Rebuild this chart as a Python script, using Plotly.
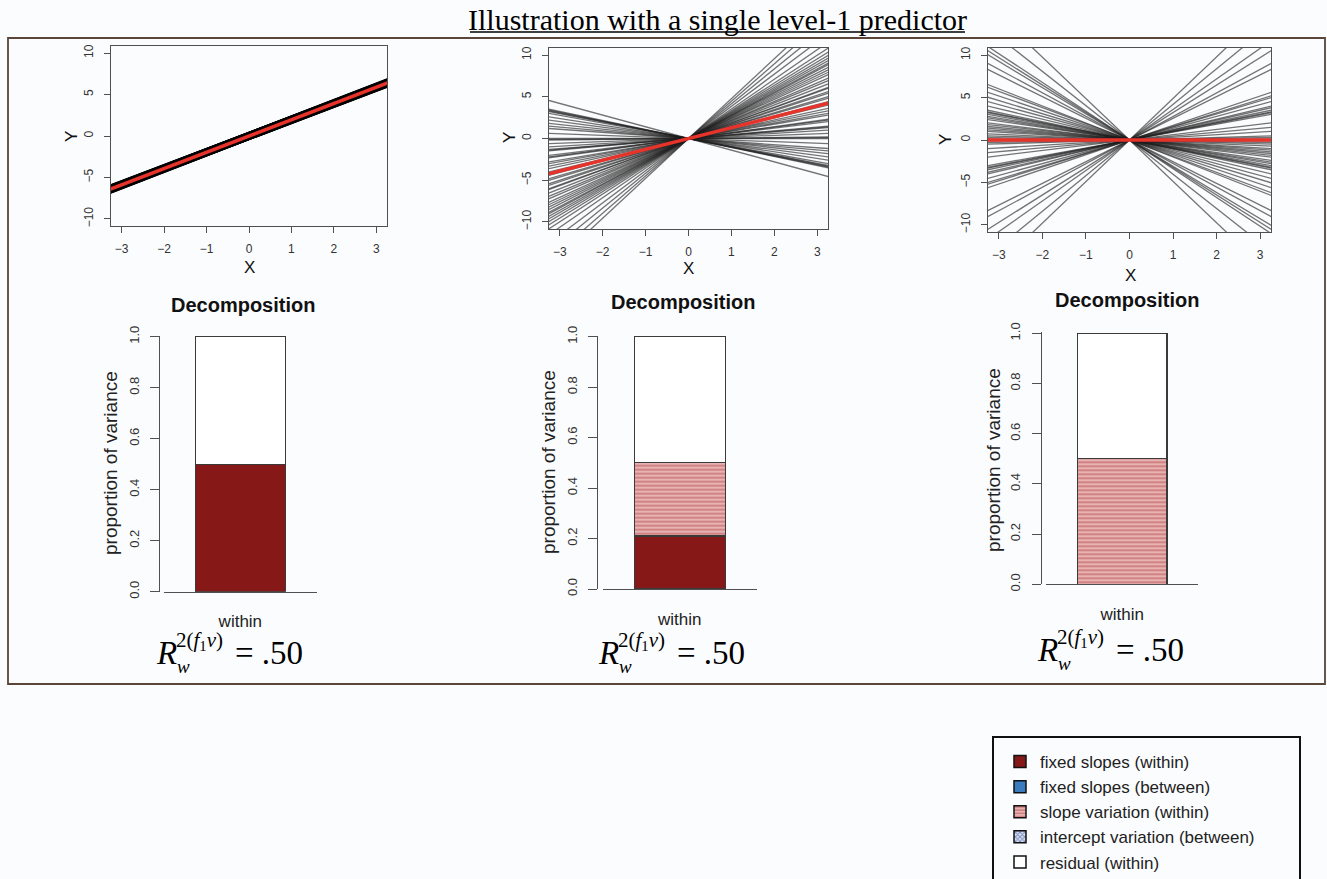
import plotly.graph_objects as go

W, H = 1327, 879
def fx(p): return p / W
def fy(p): return 1 - p / H

# ---------------- data ----------------
x_span = [-3.3, 3.3]
# slopes of the group-specific regression lines
slopes_p1 = [1.94, 1.95, 1.96, 1.97, 1.98]
red_p1 = 1.96
slopes_p2 = [-1.40, -1.08, -1.05, -1.02, -0.99, -0.93, -0.80, -0.68, -0.56, -0.46,
             -0.37, -0.19, 0.00, 0.03, 0.06, 0.19, 0.31, 0.40, 0.43, 0.46,
             0.62, 0.68, 0.71, 0.86, 0.93, 1.02, 1.11, 1.23, 1.36, 1.48,
             1.54, 1.67, 1.73, 1.85, 1.88, 2.01, 2.13, 2.22, 2.35, 2.44,
             2.53, 2.62, 2.72, 2.78, 2.87, 2.96, 3.06, 3.18, 3.33, 3.55,
             3.86, 4.17, 4.48, 4.78]
red_p2 = 1.30
slopes_p3 = [-4.88, -4.04, -3.39, -3.24, -3.09, -2.78, -2.56, -2.01, -1.91, -1.73,
             -1.55, -1.39, -1.23, -1.08, -1.02, -0.99, -0.93, -0.86, -0.80, -0.74,
             -0.62, -0.56, -0.49, -0.43, -0.37, -0.31, -0.22, -0.15, -0.09, -0.03,
             0.03, 0.09, 0.15, 0.31, 0.46, 0.62, 0.93, 0.99, 1.02, 1.08,
             1.17, 1.23, 1.39, 1.54, 1.60, 1.73, 2.56, 2.78, 3.24, 3.60,
             4.20, 4.90]
red_p3 = 0.0

components = ["fixed slopes (within)", "fixed slopes (between)",
              "slope variation (within)", "intercept variation (between)",
              "residual (within)"]
decomp_p1 = [0.50, 0.0, 0.0, 0.0, 0.50]
decomp_p2 = [0.21, 0.0, 0.29, 0.0, 0.50]
decomp_p3 = [0.0, 0.0, 0.50, 0.0, 0.50]
bar_category = ["within"]
r2_labels = [".50", ".50", ".50"]

x_ticks = [-3, -2, -1, 0, 1, 2, 3]
y_ticks = [-10, -5, 0, 5, 10]
prop_ticks = [0.0, 0.2, 0.4, 0.6, 0.8, 1.0]
prop_ticktext = ["0.0", "0.2", "0.4", "0.6", "0.8", "1.0"]

# ---------------- styles ----------------
BG = "#fbfcfe"
DARKRED = "#861818"
BLUE = "#3b7cc0"
comp_styles = {
    "fixed slopes (within)": dict(color=DARKRED),
    "fixed slopes (between)": dict(color=BLUE),
    "slope variation (within)": dict(color="#e9b5b5",
                                     pattern=dict(shape="-", fgcolor="#b34646", bgcolor="#eec0c0",
                                                  size=4, solidity=0.62)),
    "intercept variation (between)": dict(color="#dfe6f4",
                                          pattern=dict(shape="x", fgcolor="#1d3a8a", bgcolor="#dfe6f4",
                                                       size=4, solidity=0.55)),
    "residual (within)": dict(color="white"),
}
SANS = "Arial, Liberation Sans, sans-serif"
SERIF = "Times New Roman, Liberation Serif, serif"

fig = go.Figure()

# ---------------- top line panels ----------------
panels = [
    dict(n="", slopes=slopes_p1, red=red_p1, dom=(111, 387, 46, 226), lw=8, col="rgba(0,0,0,1)"),
    dict(n="2", slopes=slopes_p2, red=red_p2, dom=(549, 828, 48, 229), lw=1.3, col="rgba(30,30,30,0.62)"),
    dict(n="3", slopes=slopes_p3, red=red_p3, dom=(988, 1271, 48, 232), lw=1.3, col="rgba(30,30,30,0.62)"),
]
for p in panels:
    xa, ya = "x" + p["n"], "y" + p["n"]
    for s in p["slopes"]:
        fig.add_trace(go.Scatter(x=x_span, y=[v * s for v in x_span], mode="lines",
                                 line=dict(color=p["col"], width=p["lw"]),
                                 xaxis=xa, yaxis=ya, showlegend=False, hoverinfo="skip"))
    fig.add_trace(go.Scatter(x=x_span, y=[v * p["red"] for v in x_span], mode="lines",
                             line=dict(color="#e8332b", width=3.4),
                             xaxis=xa, yaxis=ya, showlegend=False, hoverinfo="skip"))
    x0, x1, y0, y1 = p["dom"]
    common = dict(showgrid=False, zeroline=False, showline=True, mirror=True,
                  linecolor="#505050", linewidth=1.3, ticks="outside", ticklen=6,
                  tickcolor="#505050", tickfont=dict(family=SANS, size=12, color="#333"),
                  fixedrange=True)
    fig.update_layout(**{
        "xaxis" + p["n"]: dict(domain=[fx(x0), fx(x1)], range=[-3.25, 3.25], anchor=ya,
                               tickvals=x_ticks, ticklabelstandoff=5, **common),
        "yaxis" + p["n"]: dict(domain=[fy(y1), fy(y0)], range=[-10.85, 10.85], anchor=xa,
                               tickvals=y_ticks, tickangle=-90, ticklabelstandoff=6, **common),
    })

# ---------------- decomposition bar panels ----------------
bars = [
    dict(n="4", data=decomp_p1, yaxis_x=159.3, base=(164, 316.7), y0=591.7, y1=336.7),
    dict(n="5", data=decomp_p2, yaxis_x=597.3, base=(602.7, 756.7), y0=589.0, y1=336.7),
    dict(n="6", data=decomp_p3, yaxis_x=1040.7, base=(1046, 1198.3), y0=584.3, y1=333.3),
]
for b in bars:
    xa, ya = "x" + b["n"], "y" + b["n"]
    for comp, val in zip(components, b["data"]):
        if val <= 0:
            continue
        st = comp_styles[comp]
        marker = dict(color=st["color"], line=dict(color="#3a3a3a", width=1.2))
        if "pattern" in st:
            marker["pattern"] = st["pattern"]
        fig.add_trace(go.Bar(x=bar_category, y=[val], width=0.59, marker=marker,
                             xaxis=xa, yaxis=ya, showlegend=False, hoverinfo="skip"))
    top = b["y1"] - (b["y0"] - b["y1"]) * 0.004
    fig.update_layout(**{
        "xaxis" + b["n"]: dict(domain=[fx(b["base"][0]), fx(b["base"][1])], anchor=ya,
                               type="category", showline=True, linecolor="#505050", linewidth=1.3,
                               ticks="", showgrid=False, zeroline=False, ticklabelstandoff=14,
                               tickfont=dict(family=SANS, size=17, color="#222"), fixedrange=True),
        "yaxis" + b["n"]: dict(domain=[fy(b["y0"]), fy(top)], range=[0, 1.004], anchor="free",
                               position=fx(b["yaxis_x"]), tickvals=prop_ticks, ticktext=prop_ticktext,
                               tickangle=-90, ticks="outside", ticklen=9, tickcolor="#505050",
                               showline=True, linecolor="#505050", linewidth=1.3, showgrid=False,
                               zeroline=False, ticklabelstandoff=6,
                               tickfont=dict(family=SANS, size=13, color="#333"), fixedrange=True),
    })

# ---------------- legend (dummy entries) ----------------
for comp in components:
    st = comp_styles[comp]
    marker = dict(color=st["color"], line=dict(color="#111", width=1.5))
    if "pattern" in st:
        marker["pattern"] = st["pattern"]
    fig.add_trace(go.Bar(x=bar_category, y=[None], name=comp, marker=marker,
                         xaxis="x4", yaxis="y4", showlegend=True, hoverinfo="skip"))

# ---------------- annotations ----------------
ann = []
def add_text(x, y, text, size, family=SANS, bold=False, angle=0, xanchor="center", color="#111"):
    ann.append(dict(x=fx(x), y=fy(y), xref="paper", yref="paper", text=("<b>%s</b>" % text) if bold else text,
                    showarrow=False, xanchor=xanchor, yanchor="middle", textangle=angle,
                    font=dict(family=family, size=size, color=color)))

add_text(717, 19, "Illustration with a single level-1 predictor", 30, family=SERIF, color="#000")

for (xX, yX), (xY, yY) in [((249, 267), (72, 137)), ((688, 269), (509, 138)), ((1130, 275), (945, 140))]:
    add_text(xX, yX, "X", 17)
    add_text(xY, yY, "Y", 17, angle=-90)

for (xt, yt), (xp, yp) in [((243, 305), (110, 463)), ((683, 302), (548, 462)), ((1127, 300), (993, 460))]:
    add_text(xt, yt, "Decomposition", 20, bold=True)
    add_text(xp, yp, "proportion of variance", 19, angle=-90, color="#222")

for (x0, yc), val in zip([(154, 653), (596, 653), (1035, 650)], r2_labels):
    add_text(x0, yc, "<i>R</i>", 33, family=SERIF, xanchor="left", color="#000")
    add_text(x0 + 21, yc + 13, "<i>w</i>", 19, family=SERIF, xanchor="left", color="#000")
    add_text(x0 + 20, yc - 12, "2(<i>f</i><sub>1</sub><i>v</i>)", 21, family=SERIF, xanchor="left", color="#000")
    add_text(x0 + 79, yc, "= " + val, 33, family=SERIF, xanchor="left", color="#000")

shapes = [
    # title underline
    dict(type="line", xref="paper", yref="paper", x0=fx(470), x1=fx(965), y0=fy(32), y1=fy(32),
         line=dict(color="#000", width=1.3)),
    # outer frame
    dict(type="rect", xref="paper", yref="paper", x0=fx(8), x1=fx(1325), y0=fy(684), y1=fy(38),
         line=dict(color="#5a4538", width=1.8)),
    # legend box
    dict(type="rect", xref="paper", yref="paper", x0=fx(993), x1=fx(1300), y0=fy(885), y1=fy(737),
         line=dict(color="#111", width=2)),
]

fig.update_layout(
    width=W, height=H, margin=dict(l=0, r=0, t=0, b=0, autoexpand=False),
    paper_bgcolor=BG, plot_bgcolor=BG, barmode="stack",
    annotations=ann, shapes=shapes,
    legend=dict(x=fx(1000), y=fy(744), xanchor="left", yanchor="top", bgcolor="rgba(0,0,0,0)",
                borderwidth=0, traceorder="normal",
                font=dict(family=SANS, size=17, color="#222"), tracegroupgap=0),
    showlegend=True,
)

fig.write_html("out.html", config={"displayModeBar": False},
               post_script="document.body.style.margin='0';")
